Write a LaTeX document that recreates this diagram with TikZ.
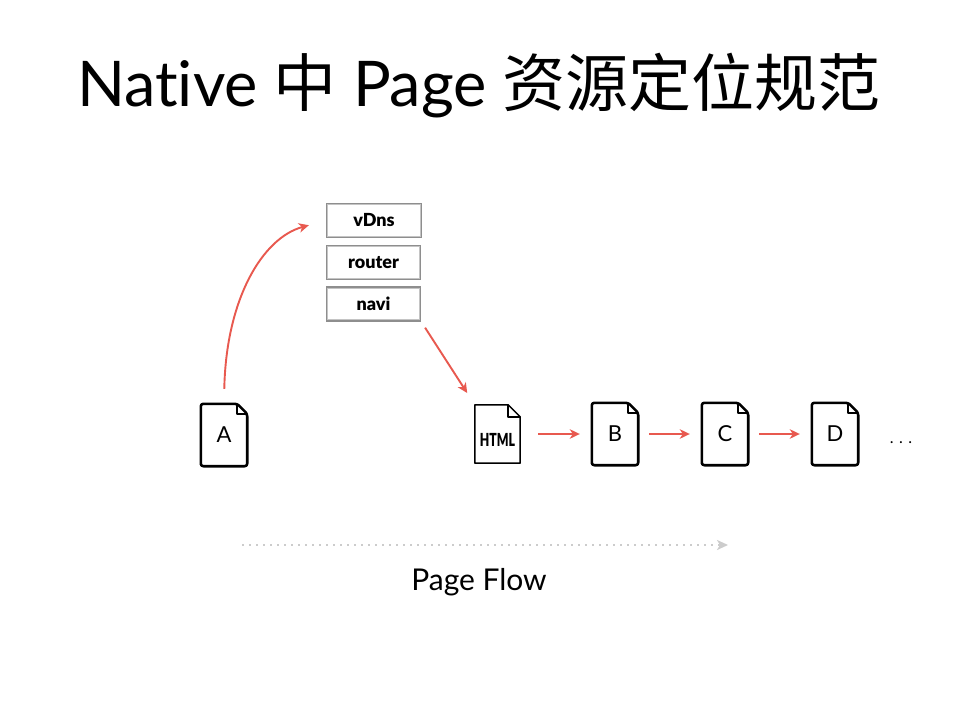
\documentclass[tikz,border=0pt]{standalone}
\usepackage{fontspec}
\setmainfont{Lato}[Ligatures=NoCommon]
\newfontfamily\latoblack{Lato Black}
\newfontfamily\cjk{Noto Sans CJK SC}
\usetikzlibrary{arrows.meta}
\definecolor{flowred}{HTML}{E8594F}
\definecolor{boxgray}{HTML}{8E8E8E}
\definecolor{boxgraylight}{HTML}{C4C4C4}
\definecolor{dotgray}{HTML}{CCCCCC}
\tikzset{
  docnode/.style={minimum width=46pt,minimum height=62pt,inner sep=0pt,font=\fontsize{22}{22}\selectfont},
  docline/.style={line width=2.6pt,rounded corners=2.5pt,line join=round},
  htmlline/.style={line width=1.5pt,line join=round},
  stackbox/.style={draw=boxgray,line width=1.6pt,minimum width=94pt,minimum height=34pt,inner sep=0pt,font=\latoblack\fontsize{18}{18}\selectfont},
  sketchline/.style={draw=boxgraylight,line width=1pt},
  redarrow/.style={draw=flowred,line width=1.9pt,-{Stealth[length=10pt,width=9.5pt,inset=3pt]}},
}
\begin{document}
\begin{tikzpicture}[x=1pt,y=-1pt]
\useasboundingbox (0,0) rectangle (959,720);
\fill[white] (0,0) rectangle (959,720);
% title
\node (title) at (479,86) {\fontsize{63}{63}\selectfont Native {\cjk 中} Page {\cjk 资源定位规范}};
% stack
\node[stackbox] (vdns) at (374,220.5) {vDns};
\node[stackbox] (router) at (373.5,262.5) {router};
\node[stackbox] (navi) at (373.5,304) {navi};
\foreach \b in {vdns,router,navi}{
  \draw[sketchline] ([xshift=1.5pt,yshift=-2pt]\b.north west) rectangle ([xshift=-1.5pt,yshift=2pt]\b.south east);
}
% docs
\node[docnode] (A) at (224,435) {A};
\node[docnode,minimum width=45pt,minimum height=58pt] (H) at (497.5,434) {};
\node[font=\latoblack\fontsize{18}{18}\selectfont,xscale=0.68] (Htext) at (497.5,440) {HTML};
\node[docnode] (B) at (615,434) {B};
\node[docnode] (C) at (725,434) {C};
\node[docnode] (D) at (835,434) {D};
\foreach \n in {A,B,C,D}{
  \draw[docline] (\n.south west) |- ([xshift=-10pt]\n.north east) -- ([yshift=-10pt]\n.north east) |- cycle;
  \draw[line width=2pt,line join=round] ([xshift=-10pt]\n.north east) |- ([yshift=-10pt]\n.north east);
}
\draw[htmlline] (H.south west) |- ([xshift=-12pt]H.north east) -- ([yshift=-12pt]H.north east) |- cycle;
\draw[htmlline] ([xshift=-12pt]H.north east) |- ([yshift=-12pt]H.north east);
\node[font=\fontsize{16}{16}\selectfont] (dots) at (901,443) {. . .};
% arrows
\draw[redarrow,shorten <=15pt,shorten >=18pt] (A.north) .. controls (226,300) and (262,238) .. (vdns.west);
\draw[redarrow,shorten <=7pt,shorten >=14pt] (navi.south east) -- (H.north west);
\draw[redarrow,shorten <=18pt,shorten >=12pt] (H.east) -- (B.west);
\draw[redarrow,shorten <=11pt,shorten >=12pt] (B.east) -- (C.west);
\draw[redarrow,shorten <=11pt,shorten >=12pt] (C.east) -- (D.west);
% page flow
\coordinate (fs) at (242,545);
\coordinate (fe) at (728,545);
\draw[dotgray,line width=2pt,dash pattern=on 2pt off 5pt,-{Stealth[length=11pt,width=10pt,inset=3pt,fill=dotgray]}] (fs) -- (fe);
\node[font=\fontsize{30}{30}\selectfont] (pf) at (479,582) {Page Flow};
\end{tikzpicture}
\end{document}
